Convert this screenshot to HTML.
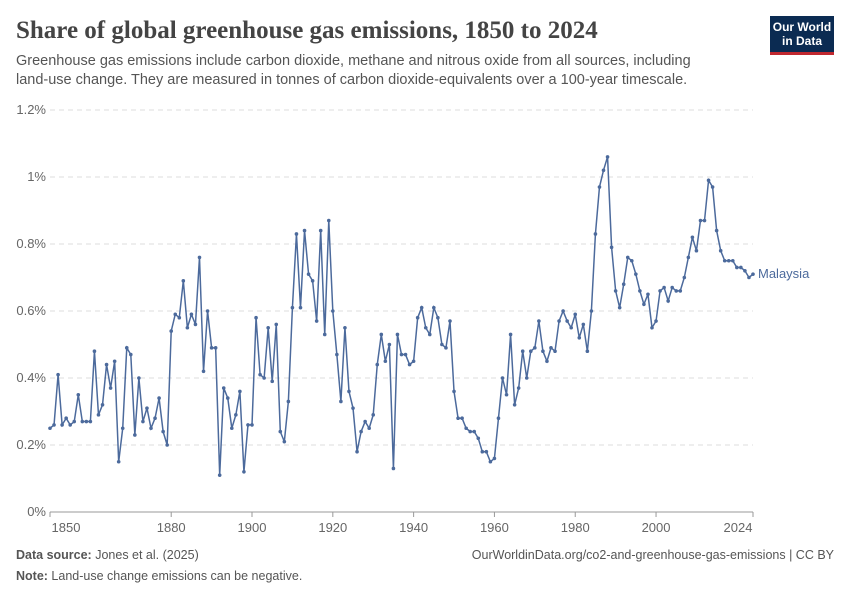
<!DOCTYPE html>
<html><head><meta charset="utf-8">
<style>
body{margin:0;background:#fff;font-family:"Liberation Sans",sans-serif;}
#wrap{position:relative;width:850px;height:600px;overflow:hidden;}
.t{position:absolute;margin:0;}
</style></head><body>
<div id="wrap">
<div class="t" style="left:16px;top:17px;font-family:'Liberation Serif',serif;font-size:25px;font-weight:bold;color:#444;">Share of global greenhouse gas emissions, 1850 to 2024</div>
<div class="t" style="left:16px;top:52px;font-size:14.5px;line-height:19px;color:#555;width:700px;">Greenhouse gas emissions include carbon dioxide, methane and nitrous oxide from all sources, including land-use change. They are measured in tonnes of carbon dioxide-equivalents over a 100-year timescale.</div>
<div class="t" style="left:770px;top:16px;width:64px;height:36px;background:#0b2b52;border-bottom:3px solid #c0282f;color:#fff;font-size:12px;font-weight:bold;line-height:14px;text-align:center;display:flex;align-items:center;justify-content:center;">Our World<br>in Data</div>
<svg id="chart" width="850" height="600" style="position:absolute;left:0;top:0"></svg>
<div class="t" style="left:16px;top:548px;font-size:12.5px;color:#555;"><b>Data source:</b> Jones et al. (2025)</div>
<div class="t" style="right:16px;top:548px;font-size:12.5px;color:#555;">OurWorldinData.org/co2-and-greenhouse-gas-emissions | CC BY</div>
<div class="t" style="left:16px;top:569px;font-size:12.5px;color:#555;"><b>Note:</b> Land-use change emissions can be negative.</div>
</div>
<script>
const startYear = 1850;
const values = [0.25,0.26,0.41,0.26,0.28,0.26,0.27,0.35,0.27,0.27,0.27,0.48,0.29,0.32,0.44,0.37,0.45,0.15,0.25,0.49,0.47,0.23,0.40,0.27,0.31,0.25,0.28,0.34,0.24,0.20,
0.54,0.59,0.58,0.69,0.55,0.59,0.56,0.76,0.42,0.60,0.49,0.49,0.11,0.37,0.34,0.25,0.29,0.36,0.12,0.26,
0.26,0.58,0.41,0.40,0.55,0.39,0.56,0.24,0.21,0.33,0.61,0.83,0.61,0.84,0.71,0.69,0.57,0.84,0.53,0.87,
0.60,0.47,0.33,0.55,0.36,0.31,0.18,0.24,0.27,0.25,0.29,0.44,0.53,0.45,0.50,0.13,0.53,0.47,0.47,0.44,
0.45,0.58,0.61,0.55,0.53,0.61,0.58,0.50,0.49,0.57,0.36,0.28,0.28,0.25,0.24,0.24,0.22,0.18,0.18,0.15,
0.16,0.28,0.40,0.35,0.53,0.32,0.37,0.48,0.40,0.48,0.49,0.57,0.48,0.45,0.49,0.48,0.57,0.60,0.57,0.55,
0.59,0.52,0.56,0.48,0.60,0.83,0.97,1.02,1.06,0.79,0.66,0.61,0.68,0.76,0.75,0.71,0.66,0.62,0.65,0.55,
0.57,0.66,0.67,0.63,0.67,0.66,0.66,0.70,0.76,0.82,0.78,0.87,0.87,0.99,0.97,0.84,0.78,0.75,0.75,0.75,
0.73,0.73,0.72,0.70,0.71];
const yTicks = [0,0.2,0.4,0.6,0.8,1.0,1.2];
const yTickLabels = ["0%","0.2%","0.4%","0.6%","0.8%","1%","1.2%"];
const xTicks = [1850,1880,1900,1920,1940,1960,1980,2000,2024];
const seriesName = "Malaysia";

const NS="http://www.w3.org/2000/svg";
const svg=document.getElementById('chart');
const x0=50,x1=753,y0=512,y1=110;
const xS=y=>x0+(y-1850)/(2024-1850)*(x1-x0);
const yS=v=>y0-v/1.2*(y0-y1);
function mk(t,a){const e=document.createElementNS(NS,t);for(const k in a)e.setAttribute(k,a[k]);svg.appendChild(e);return e;}
yTicks.forEach((v,i)=>{
  const l=mk('line',{x1:x0,x2:x1,y1:yS(v),y2:yS(v),stroke:v===0?'#999':'#ddd','stroke-dasharray':v===0?'':'5,4'});
  
  
  const t=mk('text',{x:46,y:yS(v)+4,'text-anchor':'end','font-size':'13',fill:'#666','font-family':'Liberation Sans, sans-serif'});
  t.textContent=yTickLabels[i];
  
  
});
xTicks.forEach((yr,i)=>{
  let tx=xS(yr); if(i===0)tx+=16; if(i===xTicks.length-1)tx-=15;
  const tk=mk('line',{x1:xS(yr),x2:xS(yr),y1:y0,y2:y0+5,stroke:'#999'});
  
  
  const t=mk('text',{x:tx,y:y0+20,'text-anchor':'middle','font-size':'13',fill:'#666','font-family':'Liberation Sans, sans-serif'});
  t.textContent=yr;
  
  
});
const pts=values.map((v,i)=>[xS(startYear+i),yS(v)]);
const path=mk('polyline',{points:pts.map(p=>p.join(',')).join(' '),fill:'none',stroke:'#4c6a9c','stroke-width':'1.5'});


pts.forEach(p=>{
  const c=mk('circle',{cx:p[0],cy:p[1],r:1.8,fill:'#4c6a9c'});
  
  
});
const last=pts[pts.length-1];
const lab=mk('text',{x:last[0]+5,y:last[1]+4,'font-size':'13',fill:'#4c6a9c','font-family':'Liberation Sans, sans-serif'});
lab.textContent=seriesName;


</script>
</body></html>
